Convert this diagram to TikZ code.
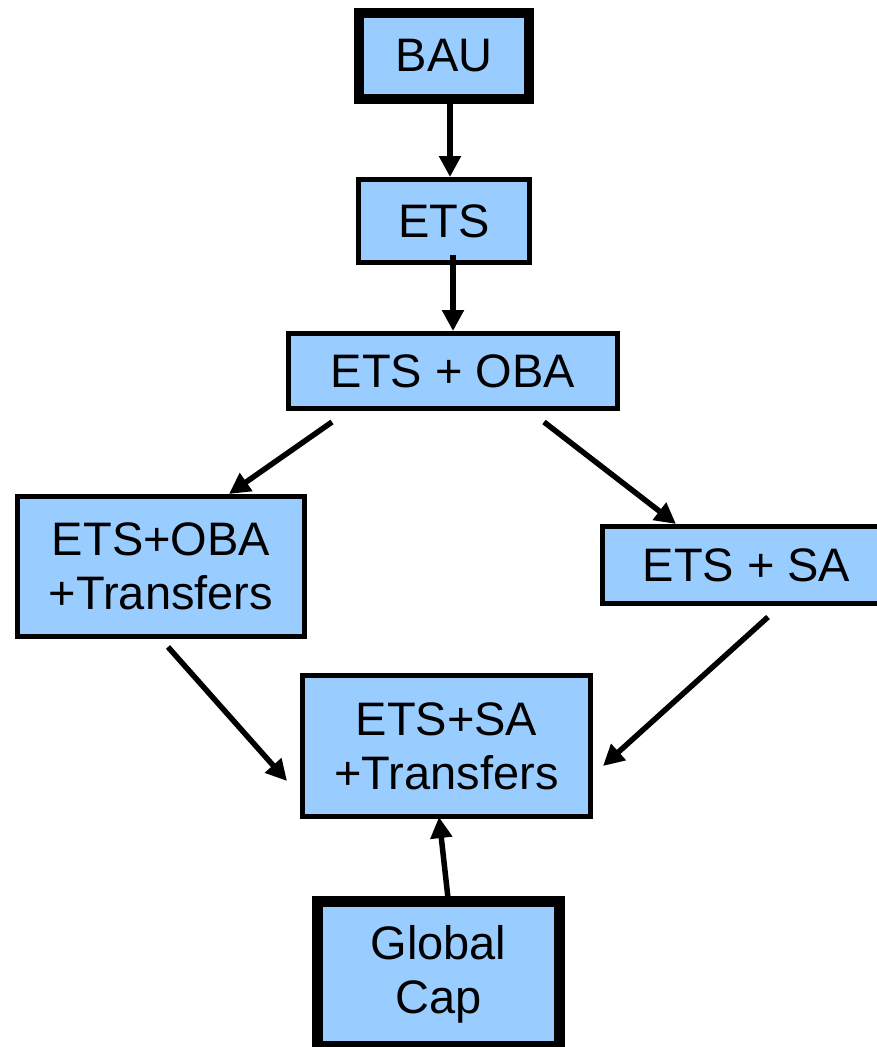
\documentclass[tikz,border=0pt]{standalone}
\usepackage{fontspec}
\setmainfont{Liberation Sans}
\usetikzlibrary{arrows.meta}
\definecolor{boxblue}{HTML}{99CCFF}
\begin{document}
\begin{tikzpicture}[x=1pt,y=-1pt,
  box/.style={draw=black, fill=boxblue, inner sep=0pt, align=center,
    font=\fontsize{47}{54}\selectfont},
  thinbox/.style={box, line width=5pt},
  thickbox/.style={box, line width=10pt},
  arr/.style={line width=5.5pt, -{Triangle[length=21pt,width=21pt]}}]
\useasboundingbox (0,0) rectangle (877,1047);
\clip (0,0) rectangle (877,1047);
\node[thickbox, minimum width=170pt, minimum height=86pt] (bau) at (444,56) {BAU};
\node[thinbox, minimum width=171pt, minimum height=83pt] (ets) at (444,221) {ETS};
\node[thinbox, minimum width=329pt, minimum height=75pt] (oba) at (453,371) {ETS + OBA};
\node[thinbox, minimum width=287pt, minimum height=140pt] (obat) at (161,566.5) {ETS+OBA\\+Transfers};
\node[thinbox, minimum width=288pt, minimum height=77pt] (sa) at (746.5,565) {ETS + SA};
\node[thinbox, minimum width=288pt, minimum height=141pt] (sat) at (446.5,746) {ETS+SA\\+Transfers};
\node[thickbox, line width=11pt, minimum width=242pt, minimum height=145pt] (cap) at (438.5,974) {Global\\Cap};
% arrow end points
\coordinate (s1) at (450,104);
\coordinate (s2) at (453,255);
\coordinate (s3) at (332,422);
\coordinate (t3) at (229,494);
\coordinate (s4) at (544,422);
\coordinate (t4) at (676,524);
\coordinate (s5) at (168,647);
\coordinate (t5) at (287,781);
\coordinate (s6) at (768,617);
\coordinate (t6) at (603,766);
\coordinate (s7) at (448,898);
\coordinate (t7) at (439,817);
\draw[arr] (s1) -- (s1 |- ets.north);
\draw[arr] (s2) -- (s2 |- oba.north);
\draw[arr] (s3) -- (t3);
\draw[arr] (s4) -- (t4);
\draw[arr] (s5) -- (t5);
\draw[arr] (s6) -- (t6);
\draw[arr] (s7) -- (t7);
\end{tikzpicture}
\end{document}
